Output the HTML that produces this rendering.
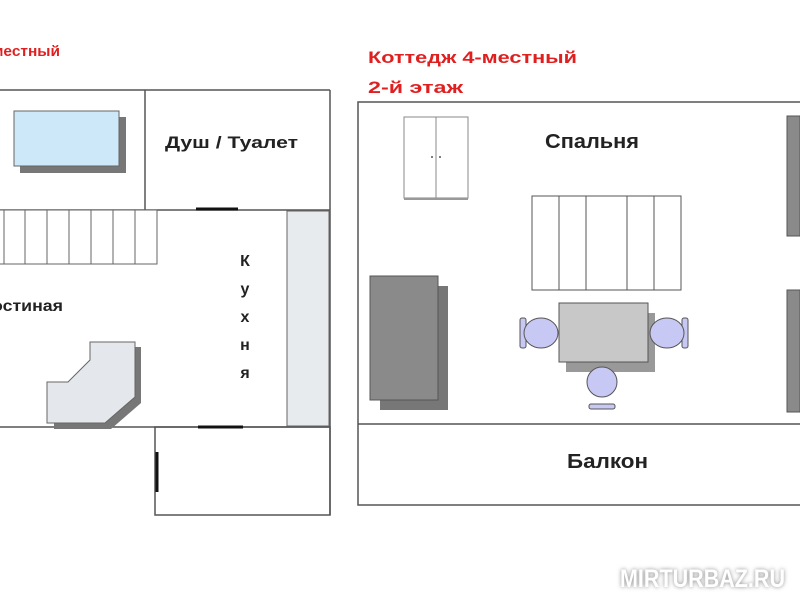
<!DOCTYPE html>
<html><head><meta charset="utf-8"><style>
html,body{margin:0;padding:0;background:#fff;}
svg{display:block;}
text{font-family:"Liberation Sans",sans-serif;font-weight:bold;}
</style></head><body>
<svg width="800" height="600" viewBox="0 0 800 600" xmlns="http://www.w3.org/2000/svg">
<defs><filter id="gl" x="-20%" y="-50%" width="140%" height="200%"><feGaussianBlur stdDeviation="2"/></filter></defs>
<rect width="800" height="600" fill="#fff"/>
<!-- left plan -->
<text x="-8" y="56" font-size="15" fill="#e02020" textLength="68" lengthAdjust="spacingAndGlyphs">местный</text>
<g stroke="#555" stroke-width="1.5" fill="none">
<line x1="0" y1="90" x2="330" y2="90"/>
<line x1="330" y1="90" x2="330" y2="515"/>
<line x1="145" y1="90" x2="145" y2="210"/>
<line x1="0" y1="210" x2="330" y2="210"/>
<line x1="0" y1="427" x2="330" y2="427"/>
<rect x="155" y="427" width="175" height="88"/>
</g>
<rect x="287" y="211" width="42" height="215" fill="#e8ebee" stroke="#666" stroke-width="1"/>
<rect x="20" y="117" width="106" height="56" fill="#777"/>
<rect x="14" y="111" width="105" height="55" fill="#cde8f8" stroke="#666" stroke-width="1"/>
<g stroke="#666" stroke-width="1" fill="#fff">
<rect x="-2" y="210" width="159" height="54"/>
<line x1="4" y1="210" x2="4" y2="264"/><line x1="25" y1="210" x2="25" y2="264"/>
<line x1="47" y1="210" x2="47" y2="264"/><line x1="69" y1="210" x2="69" y2="264"/>
<line x1="91" y1="210" x2="91" y2="264"/><line x1="113" y1="210" x2="113" y2="264"/>
<line x1="135" y1="210" x2="135" y2="264"/>
</g>
<polygon points="97,347 141,347 141,403 111,429 54,429 54,388 75,388 97,366" fill="#777"/>
<polygon points="90,342 135,342 135,397 105,423 47,423 47,382 68,382 90,360" fill="#e4e8ec" stroke="#666" stroke-width="1"/>
<g stroke="#111" stroke-width="3">
<line x1="196" y1="209" x2="238" y2="209"/>
<line x1="198" y1="427" x2="243" y2="427"/>
<line x1="157" y1="452" x2="157" y2="492"/>
</g>
<text x="-8" y="311" font-size="16" fill="#222" textLength="71" lengthAdjust="spacingAndGlyphs">остиная</text>
<text x="165" y="148" font-size="17" fill="#222" textLength="133" lengthAdjust="spacingAndGlyphs">Душ / Туалет</text>
<g font-size="16" fill="#222" text-anchor="middle">
<text x="245" y="266">К</text><text x="245" y="294">у</text><text x="245" y="322">х</text><text x="245" y="350">н</text><text x="245" y="378">я</text>
</g>
<!-- right plan -->
<text x="368" y="63" font-size="17" fill="#e02020" textLength="209" lengthAdjust="spacingAndGlyphs">Коттедж 4-местный</text>
<text x="368" y="93" font-size="17" fill="#e02020" textLength="95" lengthAdjust="spacingAndGlyphs">2-й этаж</text>
<rect x="358" y="102" width="450" height="403" fill="none" stroke="#555" stroke-width="1.5"/>
<line x1="358" y1="424" x2="800" y2="424" stroke="#555" stroke-width="1.5"/>
<rect x="404" y="117" width="64" height="81" fill="#fff" stroke="#888" stroke-width="1"/>
<line x1="436" y1="117" x2="436" y2="198" stroke="#888"/>
<line x1="404" y1="199" x2="468" y2="199" stroke="#999" stroke-width="2"/>
<circle cx="432" cy="157" r="1" fill="#555"/><circle cx="440" cy="157" r="1" fill="#555"/>
<text x="545" y="148" font-size="20" fill="#222" textLength="94" lengthAdjust="spacingAndGlyphs">Спальня</text>
<g stroke="#555" stroke-width="1" fill="#fff">
<rect x="532" y="196" width="149" height="94"/>
<line x1="559" y1="196" x2="559" y2="290"/><line x1="586" y1="196" x2="586" y2="290"/>
<line x1="627" y1="196" x2="627" y2="290"/><line x1="654" y1="196" x2="654" y2="290"/>
</g>
<rect x="380" y="286" width="68" height="124" fill="#777"/>
<rect x="370" y="276" width="68" height="124" fill="#8a8a8a" stroke="#555" stroke-width="1"/>
<rect x="566" y="313" width="89" height="59" fill="#999"/>
<rect x="559" y="303" width="89" height="59" fill="#c8c8c8" stroke="#555" stroke-width="1"/>
<rect x="787" y="116" width="13" height="120" fill="#8a8a8a" stroke="#555"/>
<rect x="787" y="290" width="13" height="122" fill="#8a8a8a" stroke="#555"/>
<g fill="#c8c8f4" stroke="#555" stroke-width="1">
<rect x="520" y="318" width="6" height="30" rx="2"/>
<ellipse cx="541" cy="333" rx="17" ry="15"/>
<rect x="682" y="318" width="6" height="30" rx="2"/>
<ellipse cx="667" cy="333" rx="17" ry="15"/>
<ellipse cx="602" cy="382" rx="15" ry="15"/>
<rect x="589" y="404" width="26" height="5" rx="2"/>
</g>
<text x="567" y="468" font-size="20" fill="#222" textLength="81" lengthAdjust="spacingAndGlyphs">Балкон</text>
<text x="620" y="587" font-size="25" fill="#888" filter="url(#gl)" textLength="165" lengthAdjust="spacingAndGlyphs">MIRTURBAZ.RU</text>
<text x="620" y="587" font-size="25" fill="#fff" textLength="165" lengthAdjust="spacingAndGlyphs">MIRTURBAZ.RU</text>
</svg>
</body></html>
